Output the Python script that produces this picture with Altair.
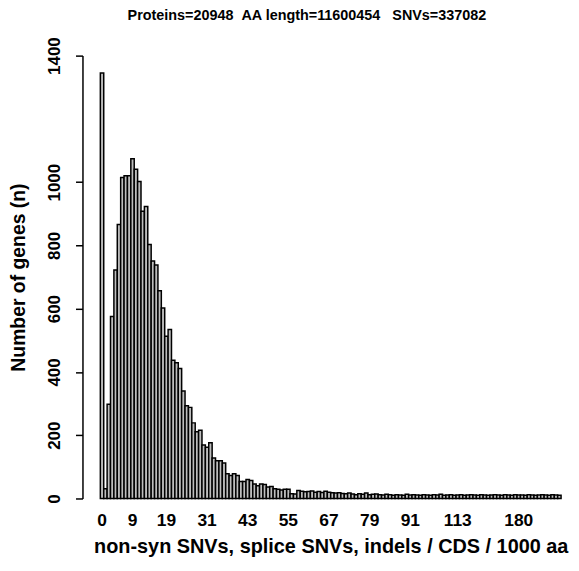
import altair as alt
import pandas as pd

# category values (bar names) in display order
cats_a = list(range(0, 92))
cats_b = [92, 93, 94, 95, 97, 98, 100, 101, 103, 105, 107, 109, 111, 113]
cats_c = [115, 117, 119, 121, 124, 127, 130, 133, 136, 140, 144, 148, 153, 158,
          164, 170, 175, 180]
cats_d = [186, 193, 201, 210, 222, 236, 251, 270, 295, 330, 380, 460]
categories = cats_a + cats_b + cats_c + cats_d

counts = [
    1345, 31, 298, 575, 722, 866, 1015, 1020, 1020, 1074,
    1041, 1002, 908, 923, 803, 751, 738, 657, 602, 513,
    534, 437, 429, 411, 340, 293, 288, 239, 211, 216,
    169, 162, 176, 128, 119, 119, 112, 78, 73, 78,
    73, 54, 54, 60, 57, 46, 40, 46, 44, 36,
    38, 31, 29, 27, 29, 29, 15, 14, 25, 23,
    21, 22, 24, 20, 22, 19, 23, 20, 18, 17,
    18, 16, 15, 17, 14, 12, 15, 13, 17, 12,
    13, 14, 12, 11, 13, 12, 10, 12, 11, 10,
    13, 11,
    12, 11, 10, 12, 11, 10, 12, 11, 13, 10, 11, 12, 10, 11,
    12, 10, 11, 12, 11, 10, 12, 11, 10, 11, 12, 11, 10, 12, 11, 10, 12, 11,
    11, 10, 12, 11, 10, 11, 12, 11, 10, 12, 11, 10,
]

shown_labels = ["0", "9", "19", "31", "43", "55", "67", "79", "91", "113", "180"]
y_ticks = [0, 200, 400, 600, 800, 1000, 1400]

df = pd.DataFrame({"cat": categories, "n": counts[: len(categories)]})

label_expr = "indexof([" + ",".join("'" + s + "'" for s in shown_labels) + "], datum.label) >= 0 ? datum.label : ''"

FONT = "Liberation Sans"
NB = "\u00a0"
title_text = "Proteins=20948" + NB * 2 + "AA length=11600454" + NB * 3 + "SNVs=337082"

chart = (
    alt.Chart(df)
    .mark_bar(fill="#BEBEBE", stroke="black", strokeWidth=1.5)
    .encode(
        x=alt.X(
            "cat:O",
            sort=categories,
            scale=alt.Scale(paddingInner=0, paddingOuter=0),
            axis=alt.Axis(
                title="non-syn SNVs, splice SNVs, indels / CDS / 1000 aa",
                labelExpr=label_expr,
                labelAngle=0,
                labelOverlap=False,
                domain=False,
                ticks=False,
                labelPadding=13,
                labelFontSize=17.5,
                labelFont=FONT,
                labelFontWeight="bold",
                labelColor="black",
                titleFontSize=20,
                titleFont=FONT,
                titleFontWeight="bold",
                titleColor="black",
                titlePadding=8,
            ),
        ),
        y=alt.Y(
            "n:Q",
            scale=alt.Scale(domain=[0, 1400], nice=False, zero=True),
            axis=alt.Axis(
                title="Number of genes (n)",
                values=y_ticks,
                format="d",
                offset=18,
                grid=False,
                tickSize=7,
                tickColor="black",
                tickWidth=1.5,
                domainColor="black",
                domainWidth=1.5,
                labelAngle=-90,
                labelAlign="center",
                labelBaseline="bottom",
                labelPadding=12,
                labelFontSize=17,
                labelFont=FONT,
                labelFontWeight="bold",
                labelColor="black",
                titleFontSize=19.5,
                titleFont=FONT,
                titleFontWeight="bold",
                titleColor="black",
                titlePadding=17,
            ),
        ),
    )
    .properties(
        width=464,
        height=446,
        title=alt.TitleParams(
            title_text,
            fontSize=14.5,
            font=FONT,
            fontWeight="bold",
            color="black",
            anchor="middle",
            frame="group",
            offset=13,
            dx=-24,
        ),
        autosize=alt.AutoSizeParams(type="none"),
        padding={"left": 93, "top": 46, "right": 10, "bottom": 60},
    )
    .configure_view(stroke=None)
)

chart.save("out.html", embed_options={"renderer": "svg", "actions": False})
